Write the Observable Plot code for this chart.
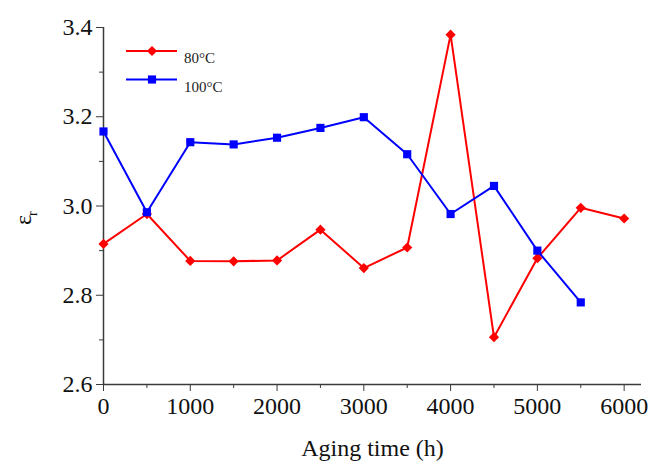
<!DOCTYPE html>
<html><head><meta charset="utf-8">
<script src="https://cdn.jsdelivr.net/npm/d3@7"></script>
<script src="https://cdn.jsdelivr.net/npm/@observablehq/plot@0.6"></script>
<style>
body{margin:0;background:#fff}
#chart{position:relative;width:663px;height:466px}
</style>
</head><body><div id="chart"></div>
<script>
// ---- data ----
const time80 = [0, 500, 1000, 1500, 2000, 2500, 3000, 3500, 4000, 4500, 5000, 5500, 6000];
const eps80  = [2.915, 2.982, 2.877, 2.876, 2.878, 2.947, 2.861, 2.907, 3.384, 2.706, 2.883, 2.996, 2.972];
const time100 = [0, 500, 1000, 1500, 2000, 2500, 3000, 3500, 4000, 4500, 5000, 5500];
const eps100  = [3.167, 2.986, 3.143, 3.138, 3.153, 3.175, 3.199, 3.116, 2.982, 3.045, 2.900, 2.784];
const seriesNames = ["80°C", "100°C"];
const seriesColors = ["#ff0000", "#0000ff"];
const seriesSymbols = ["diamond2", "square"];
const xTicks = [0, 1000, 2000, 3000, 4000, 5000, 6000];
const xMinorTicks = [500, 1500, 2500, 3500, 4500, 5500];
const yTicks = [2.6, 2.8, 3.0, 3.2, 3.4];
const yMinorTicks = [2.7, 2.9, 3.1, 3.3];
const xLabel = "Aging time (h)";
const yLabelMain = "ε";
const yLabelSub = "r";

const rows = [
  ...time80.map((t, i) => ({t, v: eps80[i], s: seriesNames[0]})),
  ...time100.map((t, i) => ({t, v: eps100[i], s: seriesNames[1]}))
];

const serif = "Liberation Serif";
const axisColor = "#3a3a3a";

const plot = Plot.plot({
  width: 663, height: 466,
  marginLeft: 103, marginRight: 22, marginTop: 27, marginBottom: 82,
  style: {background: "white", color: "#111"},
  x: {domain: [0, 6200]},
  y: {domain: [2.6, 3.4]},
  color: {domain: seriesNames, range: seriesColors},
  symbol: {domain: seriesNames, range: seriesSymbols},
  marks: [
    Plot.axisX(xTicks, {tickSize: 7, tickPadding: 5, fontSize: 24, label: null, stroke: axisColor, fill: "#111", tickFormat: d => String(d)}),
    Plot.axisX(xMinorTicks, {tickSize: 4, label: null, stroke: axisColor, tickFormat: () => ""}),
    Plot.axisY(yTicks, {tickSize: 7, tickPadding: 4, fontSize: 24, label: null, stroke: axisColor, fill: "#111", tickFormat: d3.format(".1f")}),
    Plot.axisY(yMinorTicks, {tickSize: 4, label: null, stroke: axisColor, tickFormat: () => ""}),
    Plot.ruleY([2.6], {stroke: axisColor, strokeWidth: 1.5}),
    Plot.ruleX([0], {stroke: axisColor, strokeWidth: 1.5}),
    Plot.line(rows, {x: "t", y: "v", z: "s", stroke: "s", strokeWidth: 2}),
    Plot.dot(rows, {x: "t", y: "v", symbol: "s", fill: "s", stroke: null, r: 4.6}),
    Plot.text([xLabel], {frameAnchor: "bottom", dy: 71, fontSize: 24, fill: "#111"}),
    Plot.text([yLabelMain], {frameAnchor: "left", dx: -80, dy: 19, rotate: -90, fontSize: 24, fill: "#111"}),
    Plot.text([yLabelSub], {frameAnchor: "left", dx: -71, dy: 10, rotate: -90, fontSize: 14, fill: "#111"})
  ]
});
document.getElementById("chart").appendChild(plot);

const svg = d3.select(plot);
svg.attr("font-family", serif).style("font-family", serif);

// ---- legend (inside plot, top-left) ----
const lg = svg.append("g").attr("font-size", 15).attr("text-anchor", "start");
seriesNames.forEach((name, i) => {
  const y = 51 + i * 28.5;
  lg.append("line").attr("x1", 126).attr("x2", 177).attr("y1", y).attr("y2", y)
    .attr("stroke", seriesColors[i]).attr("stroke-width", 2);
  const sym = seriesSymbols[i] === "square" ? d3.symbolSquare : d3.symbolDiamond2;
  lg.append("path").attr("d", d3.symbol(sym, 4.6 * 4.6 * Math.PI)())
    .attr("transform", `translate(152,${y})`).attr("fill", seriesColors[i]);
  lg.append("text").attr("x", 184).attr("y", y + 7).attr("dy", "0.35em")
    .attr("text-anchor", "start").attr("fill", "#222").text(name);
});
svg.selectAll("text").attr("font-family", serif).style("font-family", serif);
</script>
</body></html>
